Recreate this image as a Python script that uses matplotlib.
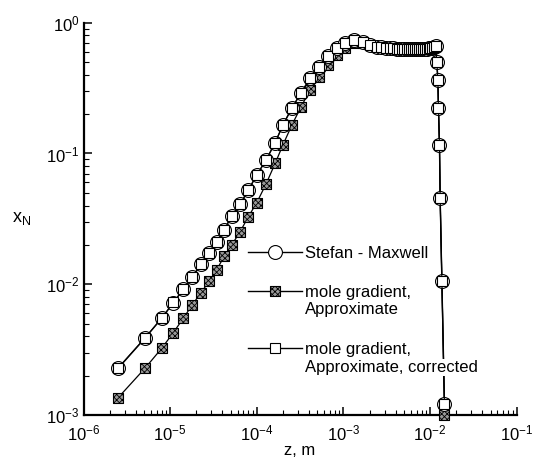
import matplotlib
matplotlib.use("Agg")
import matplotlib.pyplot as plt

plt.rcParams['font.family'] = 'Liberation Sans'
plt.rcParams['mathtext.fontset'] = 'custom'
plt.rcParams['mathtext.rm'] = 'Liberation Sans'
plt.rcParams['mathtext.it'] = 'Liberation Sans:italic'
plt.rcParams['mathtext.default'] = 'regular'
plt.rcParams['axes.unicode_minus'] = False
plt.rcParams['hatch.linewidth'] = 0.6

# -------- Data --------
z = [2.52e-6, 5.13e-6, 8.0e-6, 1.09e-5, 1.42e-5, 1.80e-5, 2.27e-5, 2.81e-5,
     3.45e-5, 4.19e-5, 5.14e-5, 6.42e-5, 8.0e-5, 1.0e-4, 1.28e-4, 1.63e-4,
     2.0e-4, 2.54e-4, 3.25e-4, 4.13e-4, 5.28e-4, 6.71e-4, 8.39e-4, 1.05e-3,
     1.34e-3, 1.70e-3, 2.03e-3, 2.43e-3, 2.70e-3, 3.09e-3, 3.46e-3, 3.78e-3,
     4.14e-3, 4.43e-3, 4.76e-3, 5.06e-3, 5.40e-3, 5.74e-3, 6.05e-3, 6.43e-3,
     6.78e-3, 7.15e-3, 7.54e-3, 7.96e-3, 8.39e-3, 8.85e-3, 9.25e-3, 9.63e-3,
     1.00e-2, 1.06e-2, 1.11e-2, 1.16e-2, 1.198e-2, 1.231e-2, 1.250e-2,
     1.284e-2, 1.308e-2, 1.369e-2, 1.467e-2]

x_sm = [2.28e-3, 3.87e-3, 5.50e-3, 7.23e-3, 9.15e-3, 1.14e-2, 1.42e-2, 1.72e-2,
        2.12e-2, 2.60e-2, 3.33e-2, 4.09e-2, 5.26e-2, 6.85e-2, 8.92e-2, 0.121,
        0.165, 0.222, 0.292, 0.376, 0.461, 0.556, 0.637, 0.703,
        0.738, 0.716, 0.676, 0.656, 0.648, 0.642, 0.638, 0.636,
        0.635, 0.634, 0.634, 0.634, 0.634, 0.634, 0.634, 0.634,
        0.634, 0.634, 0.634, 0.634, 0.634, 0.634, 0.635, 0.636,
        0.638, 0.642, 0.648, 0.66, 0.50, 0.365, 0.222,
        0.116, 0.0455, 0.0106, 0.00122]

x_approx = [1.36e-3, 2.28e-3, 3.24e-3, 4.27e-3, 5.50e-3, 6.95e-3, 8.63e-3, 1.05e-2,
            1.29e-2, 1.63e-2, 2.00e-2, 2.52e-2, 3.29e-2, 4.21e-2, 5.85e-2, 8.41e-2,
            0.116, 0.165, 0.228, 0.306, 0.386, 0.475, 0.566, 0.640,
            0.700, 0.705, 0.680, 0.656, 0.648, 0.642, 0.638, 0.636,
            0.635, 0.634, 0.634, 0.634, 0.634, 0.634, 0.634, 0.634,
            0.634, 0.634, 0.634, 0.634, 0.634, 0.634, 0.635, 0.636,
            0.638, 0.642, 0.648, 0.66, 0.50, 0.365, 0.222,
            0.116, 0.0455, 0.0106, 0.00100]

x_corr = [2.30e-3, 3.90e-3, 5.52e-3, 7.25e-3, 9.18e-3, 1.14e-2, 1.42e-2, 1.72e-2,
          2.12e-2, 2.60e-2, 3.33e-2, 4.09e-2, 5.26e-2, 6.85e-2, 8.92e-2, 0.121,
          0.165, 0.222, 0.292, 0.376, 0.461, 0.556, 0.637, 0.703,
          0.738, 0.716, 0.676, 0.656, 0.648, 0.642, 0.638, 0.636,
          0.635, 0.634, 0.634, 0.634, 0.634, 0.634, 0.634, 0.634,
          0.634, 0.634, 0.634, 0.634, 0.634, 0.634, 0.635, 0.636,
          0.638, 0.642, 0.648, 0.66, 0.50, 0.365, 0.222,
          0.116, 0.0455, 0.0106, 0.00122]

labels = ["Stefan - Maxwell",
          "mole gradient,\nApproximate",
          "mole gradient,\nApproximate, corrected"]

# -------- Plot --------
fig = plt.figure(figsize=(5.34, 4.58), dpi=100)
ax = fig.add_axes([0.1564, 0.0939, 0.8112, 0.8565])

ax.plot(z, x_approx, color='black', lw=0.9, zorder=2, clip_on=False)
ax.scatter(z, x_approx, marker='s', s=52, facecolor='0.6', edgecolor='black',
           linewidths=0.8, hatch='xxxxxx', zorder=3, clip_on=False)

ax.plot(z, x_sm, color='black', lw=1.0, marker='o', ms=10, mfc='white',
        mec='black', mew=0.8, zorder=4, clip_on=False)
ax.plot(z, x_corr, color='black', lw=0.8, marker='s', ms=7.5, mfc='white',
        mec='black', mew=0.8, zorder=5, clip_on=False)

ax.set_xscale('log')
ax.set_yscale('log')
ax.set_xlim(1e-6, 1e-1)
ax.set_ylim(1e-3, 1)

ax.spines['top'].set_visible(False)
ax.spines['right'].set_visible(False)
ax.spines['left'].set_linewidth(1.6)
ax.spines['bottom'].set_linewidth(1.6)

ax.tick_params(which='major', direction='in', length=6, width=1.1,
               labelsize=12)
ax.tick_params(which='minor', direction='in', length=3.5, width=0.8)
ax.tick_params(axis='x', which='major', pad=6)
ax.tick_params(axis='y', which='major', pad=3)

ax.set_xlabel("z, m", fontsize=12, labelpad=0)
ax.set_ylabel(r"$\mathregular{x_N}$", fontsize=13, rotation=0)
ax.yaxis.set_label_coords(-0.142, 0.48)

# -------- Legend keys --------
key_x0, key_x1, key_xm, txt_x = 0.380, 0.505, 0.443, 0.512
rows = [0.4163, 0.3169, 0.170]
line_gap = 0.045

ax.plot([key_x0, key_x1], [rows[0], rows[0]], transform=ax.transAxes,
        color='black', lw=1.0, clip_on=False, zorder=6)
ax.plot([key_xm], [rows[0]], transform=ax.transAxes, marker='o', ms=10,
        mfc='white', mec='black', mew=0.8, clip_on=False, zorder=7)

ax.plot([key_x0, key_x1], [rows[1], rows[1]], transform=ax.transAxes,
        color='black', lw=1.0, clip_on=False, zorder=6)
ax.scatter([key_xm], [rows[1]], transform=ax.transAxes, marker='s', s=52,
           facecolor='0.6', edgecolor='black', linewidths=0.8, hatch='xxxxxx',
           clip_on=False, zorder=7)

ax.plot([key_x0, key_x1], [rows[2], rows[2]], transform=ax.transAxes,
        color='black', lw=1.0, clip_on=False, zorder=6)
ax.plot([key_xm], [rows[2]], transform=ax.transAxes, marker='s', ms=7.5,
        mfc='white', mec='black', mew=0.8, clip_on=False, zorder=7)

for row, label in zip(rows, labels):
    for i, line in enumerate(label.split("\n")):
        ax.text(txt_x, row - i * line_gap, line, transform=ax.transAxes,
                fontsize=12, va='center_baseline', ha='left', zorder=8,
                bbox=dict(facecolor='white', edgecolor='none', pad=0.5))

fig.savefig("out.png", dpi=100)
